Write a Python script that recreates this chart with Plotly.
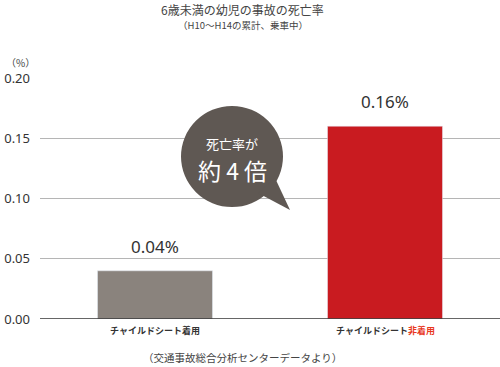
import plotly.graph_objects as go

categories = ["チャイルドシート着用", "チャイルドシート非着用"]
cat_labels = ["チャイルドシート着用", "チャイルドシート<span style='color:#e8381e'>非着用</span>"]
values = [0.04, 0.16]
value_labels = ["0.04%", "0.16%"]
tick_vals = [0.0, 0.05, 0.10, 0.15, 0.20]
tick_text = ["0.00", "0.05", "0.10", "0.15", "0.20"]
bar_colors = ["#8a837d", "#c91b20"]

W, H = 500, 367
L, R, T, B = 40, 0, 78, 48
PW, PH = W - L - R, H - T - B

def px(x):
    return (x - L) / PW

def py(y):
    return (H - B - y) / PH

JP = "Noto Sans CJK JP"

fig = go.Figure()
fig.add_trace(go.Bar(x=categories, y=values, marker_color=bar_colors, width=0.5,
                     hoverinfo="skip"))

annotations = []
for c, v, t in zip(categories, values, value_labels):
    annotations.append(dict(x=c, y=v, text=t, showarrow=False, yanchor="bottom", xanchor="center",
                            yshift=11, font=dict(family="Noto Sans, " + JP, size=17, color="#333")))
for c, t in zip(categories, cat_labels):
    annotations.append(dict(x=c, y=0, text="<b>" + t + "</b>", showarrow=False, yanchor="middle",
                            xanchor="center", yshift=-11, font=dict(family=JP, size=9, color="#333")))

def ann(x, y, text, size, color="#444"):
    return dict(xref="paper", yref="paper", x=px(x), y=py(y), text=text, showarrow=False,
                xanchor="center", yanchor="middle", font=dict(family=JP, size=size, color=color))

annotations += [
    ann(242, 10, "6歳未満の幼児の事故の死亡率", 12),
    ann(243, 25, "（H10〜H14の累計、乗車中）", 9.5),
    ann(20, 62, "（%）", 10),
    ann(242, 357, "（交通事故総合分析センターデータより）", 10.5),
    ann(232, 143, "死亡率が", 13, "white"),
    ann(232, 170, "約 4 倍", 23, "white"),
]

bubble = "#5f5853"
shapes = [
    dict(type="circle", xref="paper", yref="paper", x0=px(181), x1=px(283), y0=py(207), y1=py(106),
         fillcolor=bubble, line=dict(width=0), layer="above"),
    dict(type="path", xref="paper", yref="paper",
         path=f"M {px(258)} {py(193)} L {px(290)} {py(210)} L {px(275)} {py(178)} Z",
         fillcolor=bubble, line=dict(width=0), layer="above"),
    dict(type="line", xref="paper", yref="y", x0=0, x1=1, y0=0, y1=0,
         line=dict(color="#333", width=1.5), layer="above"),
]

fig.update_layout(
    width=W, height=H,
    margin=dict(l=L, r=R, t=T, b=B),
    paper_bgcolor="white", plot_bgcolor="white",
    showlegend=False,
    bargap=0.5,
    hovermode=False,
    xaxis=dict(showticklabels=False, showgrid=False, zeroline=False, fixedrange=True),
    yaxis=dict(range=[0, 0.2], tickvals=tick_vals, ticktext=tick_text, showgrid=True,
               gridcolor="#b5b5b5", gridwidth=1, zeroline=False, ticklabelstandoff=9,
               fixedrange=True, tickfont=dict(family="Noto Sans", size=13, color="#333")),
    annotations=annotations,
    shapes=shapes,
)

fig.write_html("out.html", config={"displayModeBar": False, "staticPlot": True},
               post_script="document.body.style.margin='0';document.body.style.padding='0';")
